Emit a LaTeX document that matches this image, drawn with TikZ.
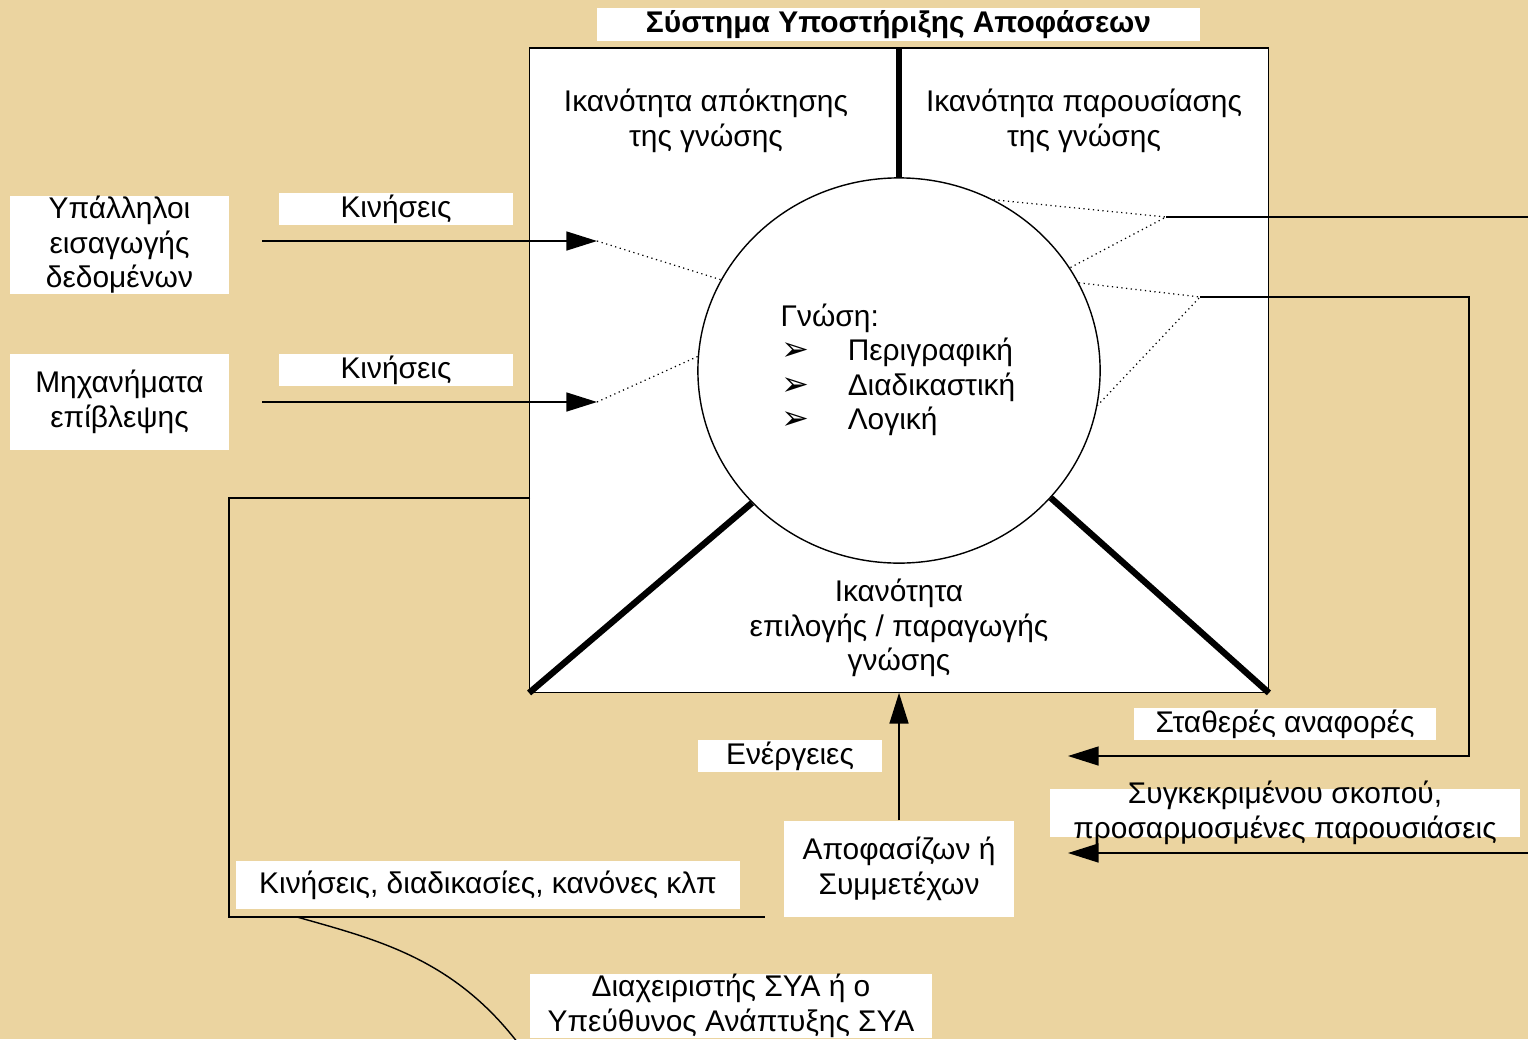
\documentclass[tikz,border=0pt]{standalone}
\usepackage{fontspec}
\setmainfont{Liberation Sans}
\newfontfamily\dingfont{DejaVu Sans}
\usetikzlibrary{arrows.meta,shapes.geometric}
\definecolor{papyrus}{RGB}{235,212,160}
\newcommand{\kbullet}{\makebox[0.67cm][l]{\hspace{0.01cm}{\dingfont\fontsize{9.5}{8}\selectfont ➢}}}

\begin{document}
\begin{tikzpicture}[x=0.01cm,y=-0.01cm,
	font=\fontsize{8.5}{9.8}\selectfont,
	whitebox/.style={fill=white,inner sep=0pt,align=center},
	fine/.style={line width=0.4pt},
	heavy/.style={line width=1.8pt},
	dots/.style={densely dotted,line width=0.35pt},
	arr/.style={line width=0.4pt,-{Triangle[length=8.7pt,width=5.4pt]}}]

	\clip (0,0) rectangle (1528,1039);
	\fill[papyrus] (0,0) rectangle (1528,1039);

	\node[whitebox,minimum width=6.03cm,minimum height=0.33cm,font=\fontsize{8.5}{9.8}\selectfont\bfseries] (title) at (898.5,24.5) {Σύστημα Υποστήριξης Αποφάσεων};

	\node[draw,fill=white,fine,minimum width=7.38cm,minimum height=6.44cm,inner sep=0pt] (sys) at (899,370) {};
	\node[draw,fine,ellipse,minimum width=4.02cm,minimum height=3.85cm,inner sep=0pt] (know) at (899,370.5) {};

	\draw[heavy] (sys.north) -- (know.north);
	\draw[heavy] (know.222) -- (sys.south west);
	\draw[heavy] (know.320) -- (sys.south east);

	\node[align=center] (getk) at (706,121) {Ικανότητα απόκτησης\\της γνώσης};
	\node[align=center] (showk) at (1084,121) {Ικανότητα παρουσίασης\\της γνώσης};
	\node[align=center] (pickk) at (899,628) {Ικανότητα\\επιλογής / παραγωγής\\γνώσης};
	\node[anchor=west,align=left,inner sep=0pt] (kinds) at (780,370) {Γνώση:\\\kbullet Περιγραφική\\\kbullet Διαδικαστική\\\kbullet Λογική};

	% inputs
	\node[whitebox,minimum width=2.19cm,minimum height=0.96cm] (clerks) at (119.5,245) {Υπάλληλοι\\εισαγωγής\\δεδομένων};
	\node[whitebox,minimum width=2.19cm,minimum height=0.96cm] (monitors) at (119.5,402) {Μηχανήματα\\επίβλεψης};
	\node[whitebox,minimum width=2.34cm,minimum height=0.32cm] (moves1) at (396,209) {Κινήσεις};
	\node[whitebox,minimum width=2.34cm,minimum height=0.32cm] (moves2) at (396,370) {Κινήσεις};

	\coordinate (from1) at (262,241);
	\coordinate (in1) at (597,241);
	\coordinate (from2) at (262,402);
	\coordinate (in2) at (597,402);
	\draw[arr] (from1) -- (in1);
	\draw[dots] (in1) -- (know.153);
	\draw[arr] (from2) -- (in2);
	\draw[dots] (in2) -- (know.176);

	% outputs
	\coordinate (out1) at (1166,217);
	\coordinate (edge1) at (1540,217);
	\coordinate (out2) at (1200,297);
	\coordinate (turn) at (1469,297);
	\coordinate (back1) at (1068,756);
	\coordinate (edge2) at (1540,853);
	\coordinate (back2) at (1068,853);
	\draw[dots] (know.61) -- (out1) -- (know.31);
	\draw[fine] (out1) -- (edge1);
	\draw[dots] (know.26) -- (out2) -- (know.-10);
	\draw[arr] (out2) -- (turn) |- (back1);
	\draw[arr] (edge2) -- (back2);

	\node[whitebox,minimum width=3.02cm,minimum height=0.32cm] (fixed) at (1285,724) {Σταθερές αναφορές};
	\node[whitebox,minimum width=4.70cm,minimum height=0.48cm] (custom) at (1285,813) {};
	\node[align=center] (customtxt) at (1285,813) {Συγκεκριμένου σκοπού,\\προσαρμοσμένες παρουσιάσεις};

	% users
	\node[whitebox,minimum width=1.84cm,minimum height=0.32cm] (acts) at (790,756) {Ενέργειες};
	\node[whitebox,minimum width=2.30cm,minimum height=0.96cm] (dm) at (899,869) {Αποφασίζων ή\\Συμμετέχων};
	\draw[arr] (dm.north) -- (sys.south);

	\coordinate (loopa) at (530,498);
	\coordinate (loopb) at (229,917);
	\coordinate (loopc) at (765,917);
	\draw[fine] (loopa) -| (loopb) -- (loopc);
	\node[whitebox,minimum width=5.04cm,minimum height=0.48cm] (rules) at (488,885) {Κινήσεις, διαδικασίες, κανόνες κλπ};

	\coordinate (curvea) at (297,917);
	\coordinate (curveb) at (540,1075);
	\draw[fine] (curvea) .. controls (385,942) and (470,962) .. (curveb);
	\node[whitebox,minimum width=4.02cm,minimum height=0.64cm] (admin) at (731,1006) {Διαχειριστής ΣΥΑ ή ο\\Υπεύθυνος Ανάπτυξης ΣΥΑ};

\end{tikzpicture}
\end{document}
